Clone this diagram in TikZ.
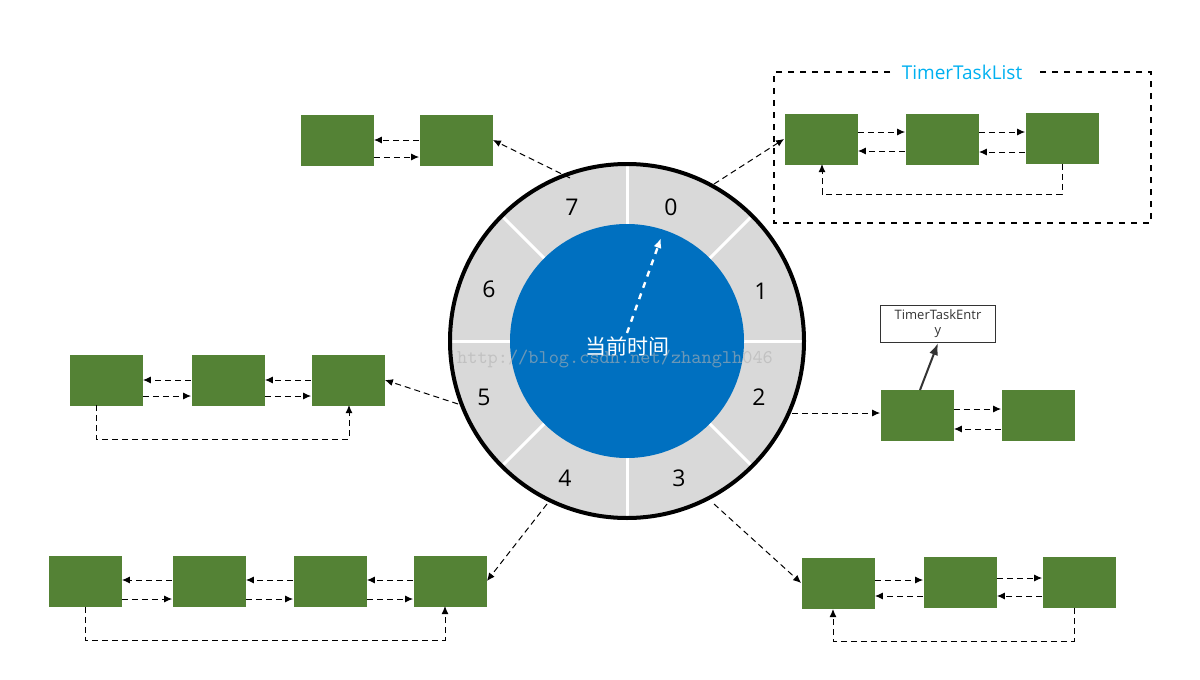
\documentclass[tikz,border=0pt]{standalone}
\usepackage{fontspec}
\setmainfont{Open Sans}
\newfontfamily\cjk{Noto Sans CJK SC}
\usetikzlibrary{arrows.meta,calc}
\definecolor{grn}{HTML}{548235}
\definecolor{blu}{HTML}{0070C0}
\definecolor{ring}{HTML}{D9D9D9}
\definecolor{cyanT}{HTML}{00B0F0}
\begin{document}
\begin{tikzpicture}[x=0.5pt,y=-0.5pt,
  box/.style={fill=grn,draw=none,minimum width=36.5pt,minimum height=25.5pt,inner sep=0},
  da/.style={densely dashed,-{Latex[length=4pt,width=3.5pt]},line width=0.5pt},
  num/.style={font=\fontsize{11.5}{13}\selectfont}]
\useasboundingbox (0,0) rectangle (1200,680);
% wheel
\fill[ring] (627,341) circle (177);
\foreach \a in {0,45,...,315} \draw[white,line width=1.5pt] (627,341) ++(\a:117) -- ++(\a:60);
\draw[line width=2pt] (627,341) circle (177);
\fill[blu] (627,341) circle (117);
\foreach \n/\x/\y in {0/671/207,1/761/291,2/759/397,3/679/478,4/565/478,5/484/397,6/489/289,7/572/207}
  \node[num] (s\n) at (\x,\y) {\n};
\coordinate (c0) at (714,184); \coordinate (c2) at (792,413);
\coordinate (c3) at (714,504); \coordinate (c4) at (547,504);
\coordinate (c5) at (458,404); \coordinate (c7) at (570,178);
\coordinate (h0) at (627,333); \coordinate (h1) at (661,238);
\draw[white,dashed,line width=1.2pt,-{Latex[length=5pt,width=4pt]}] (h0) -- (h1);
\node[white,font=\cjk\fontsize{10.5}{12}\selectfont] (now) at (627,346) {当前时间};
\node[gray!60,opacity=0.6,font=\ttfamily\fontsize{9.7}{10}\selectfont] (wm) at (615,359) {http://blog.csdn.net/zhanglh046};
% top-left
\node[box] (A1) at (337,140) {}; \node[box] (A2) at (456,140) {};
\draw[da] (A2.west |- 0,140) -- (A1.east |- 0,140);
\draw[da] (A1.east |- 0,157) -- (A2.west |- 0,157);
\draw[da] (c7) -- (A2.east);
% top-right
\draw[dashed,line width=0.8pt] (890,72) -- (774,72) -- (774,223) -- (1151,223) -- (1151,72) -- (1040,72);
\node[text=cyanT,font=\fontsize{9.5}{11}\selectfont] (tl) at (962,72) {TimerTaskList};
\node[box] (B1) at (821,139) {}; \node[box] (B2) at (942,139) {}; \node[box] (B3) at (1062,138) {};
\draw[da] (B1.east |- 0,132) -- (B2.west |- 0,132);
\draw[da] (B2.west |- 0,151) -- (B1.east |- 0,151);
\draw[da] (B2.east |- 0,132) -- (B3.west |- 0,132);
\draw[da] (B3.west |- 0,152) -- (B2.east |- 0,152);
\draw[da] (B3.south) -- (1062,194) -- (822,194) -- (822,164);
\draw[da] (c0) -- (B1.west);
% right
\node[box] (C1) at (917,415) {}; \node[box] (C2) at (1038,415) {};
\draw[da] (c2) -- (C1.west |- 0,413);
\draw[da] (C1.east |- 0,409) -- (C2.west |- 0,409);
\draw[da] (C2.west |- 0,429) -- (C1.east |- 0,429);
\node[draw=black!80,line width=0.6pt,minimum width=57.5pt,minimum height=18.5pt,inner sep=0,align=center,font=\fontsize{6.5}{7.5}\selectfont,text=black!80] (E) at (938,324) {TimerTaskEntr\\y};
\draw[black!80,line width=1pt,-{Latex[length=6pt,width=4.5pt]}] (920,390) -- (E.south);
% left
\node[box] (D1) at (106,380) {}; \node[box] (D2) at (228,380) {}; \node[box] (D3) at (348,380) {};
\draw[da] (D2.west |- 0,380) -- (D1.east |- 0,380);
\draw[da] (D1.east |- 0,396) -- (D2.west |- 0,396);
\draw[da] (D3.west |- 0,380) -- (D2.east |- 0,380);
\draw[da] (D2.east |- 0,396) -- (D3.west |- 0,396);
\draw[da] (96,405) -- (96,439) -- (349,439) -- (349,405);
\draw[da] (c5) -- (D3.east);
% bottom-left
\node[box] (E1) at (85,581) {}; \node[box] (E2) at (209,581) {}; \node[box] (E3) at (330,581) {}; \node[box] (E4) at (450,581) {};
\foreach \p/\q in {E1/E2,E2/E3,E3/E4}{
 \draw[da] (\q.west |- 0,580) -- (\p.east |- 0,580);
 \draw[da] (\p.east |- 0,599) -- (\q.west |- 0,599);}
\draw[da] (E1.south) -- (85,640) -- (445,640) -- (445,606);
\draw[da] (c4) -- (E4.east);
% bottom-right
\node[box] (F1) at (838,583) {}; \node[box] (F2) at (960,582) {}; \node[box] (F3) at (1079,582) {};
\draw[da] (F1.east |- 0,580) -- (F2.west |- 0,580);
\draw[da] (F2.west |- 0,596) -- (F1.east |- 0,596);
\draw[da] (F2.east |- 0,578) -- (F3.west |- 0,578);
\draw[da] (F3.west |- 0,596) -- (F2.east |- 0,596);
\draw[da] (1074,608) -- (1074,641) -- (833,641) -- (833,609);
\draw[da] (c3) -- (F1.west);
\end{tikzpicture}
\end{document}
